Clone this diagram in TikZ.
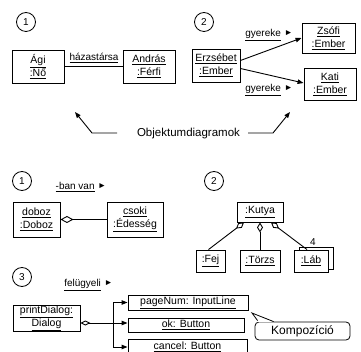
\documentclass[tikz,border=0pt]{standalone}
\usepackage{fontspec}
\setmainfont{Liberation Sans}
\usetikzlibrary{arrows.meta}
\newcommand{\uln}[1]{\underline{#1}}
\newcommand{\tri}{\,\,\raisebox{0.15ex}{\scalebox{0.85}{►}}}

\begin{document}
\begin{tikzpicture}[x=1pt,y=-1pt,
  obj/.style={draw, line width=0.9pt, inner sep=0pt, align=center, fill=white,
              font=\fontsize{10.5}{13}\selectfont},
  num/.style={draw, circle, line width=0.8pt, minimum size=19pt, inner sep=0pt,
              font=\fontsize{10}{12}\selectfont},
  lbl/.style={inner sep=0pt, font=\fontsize{10}{12}\selectfont},
  link/.style={line width=0.9pt},
  nav/.style={line width=0.9pt, -{Triangle[length=6pt,width=4.5pt]}},
  agg/.style={line width=0.9pt, {Diamond[open,length=10pt,width=6pt]}-},
  title/.style={inner sep=0pt, font=\fontsize{11.5}{14}\selectfont},
]
\useasboundingbox (0,0) rectangle (361,352);

% ---------- object diagram 1: marriage link ----------
\node[num] (n1a) at (26,22) {1};
\node[obj, minimum width=52pt, minimum height=33pt] (agi) at (38,66.5) {\uln{Ági}\\\uln{:Nő}};
\node[obj, minimum width=52pt, minimum height=33pt] (andras) at (149,66.5) {\uln{András}\\\uln{:Férfi}};
\draw[link] (agi) -- (andras);
\node[lbl] (hazas) at (94,58) {\uln{házastársa}};

% ---------- object diagram 2: parent and children ----------
\node[num] (n2a) at (204,22) {2};
\node[obj, minimum width=48pt, minimum height=33pt] (erzs) at (216,65.5) {\uln{Erzsébet}\\\uln{:Ember}};
\node[obj, minimum width=53pt, minimum height=30pt] (zsofi) at (328.5,38) {\uln{Zsófi}\\\uln{:Ember}};
\node[obj, minimum width=52pt, minimum height=32pt] (kati) at (330,84) {\uln{Kati}\\\uln{:Ember}};
\draw[nav] ([yshift=5pt]erzs.east) -- (zsofi.west);
\draw[nav] ([yshift=-3pt]erzs.east) -- ([yshift=1pt]kati.west);
\node[lbl] (gy1) at (269,35) {\uln{gyereke}\tri};
\node[lbl] (gy2) at (269,90) {\uln{gyereke}\tri};

% ---------- caption with pointers ----------
\node[title] (od) at (188.5,134) {Objektumdiagramok};
\coordinate (odl1) at (117,133);
\coordinate (odl2) at (92,133);
\coordinate (odl3) at (75,112);
\coordinate (odr1) at (248,133);
\coordinate (odr2) at (273,133);
\coordinate (odr3) at (290,112);
\draw[nav] (odl1) -- (odl2) -- (odl3);
\draw[nav] (odr1) -- (odr2) -- (odr3);

% ---------- aggregation 1 ----------
\node[num] (n1b) at (22,181) {1};
\node[lbl] (ban) at (81,187) {\uln{-ban van}\tri};
\node[obj, minimum width=47pt, minimum height=35pt] (doboz) at (36.5,219.5) {\uln{doboz}\\\uln{:Doboz}};
\node[obj, minimum width=56pt, minimum height=35pt] (csoki) at (135,219.5) {\uln{csoki}\\\uln{:Édesség}};
\draw[line width=0.9pt, {Diamond[open,length=13pt,width=7pt]}-] (doboz) -- (csoki);

% ---------- aggregation 2 ----------
\node[num] (n2b) at (214,181) {2};
\node[obj, minimum width=46pt, minimum height=20pt] (kutya) at (260,212) {\uln{:Kutya}};
\node[obj, minimum width=29pt, minimum height=22pt] (fej) at (210.5,261) {\uln{:Fej}};
\node[obj, minimum width=40pt, minimum height=22pt] (torzs) at (260,261) {\uln{:Törzs}};
\node[obj, minimum width=34pt, minimum height=22pt] (labback) at (316,258) {};
\node[obj, minimum width=34pt, minimum height=22pt] (lab) at (311,261) {\uln{:Láb}};
\draw[agg] ([xshift=-16pt]kutya.south) -- ([xshift=-2pt]fej.north);
\draw[agg] (kutya.south) -- (torzs.north);
\draw[agg] ([xshift=11pt]kutya.south) -- ([xshift=-4pt]lab.north);
\node[lbl] (four) at (313,242) {4};

% ---------- composition ----------
\node[num] (n3) at (22,277) {3};
\node[lbl] (felu) at (88.5,285) {\uln{felügyeli}\tri};
\node[obj, minimum width=67pt, minimum height=26pt] (pd) at (46.5,318) {\uln{printDialog:}\\\uln{Dialog}};
\node[obj, minimum width=120pt, minimum height=15pt] (page) at (188,302.5) {\uln{pageNum: InputLine}};
\node[obj, minimum width=116pt, minimum height=14pt] (ok) at (186,325) {\uln{ok: Button}};
\node[obj, minimum width=119pt, minimum height=16pt] (cancel) at (187.5,347) {\uln{cancel: Button}};
\coordinate (trunk) at (113,323);
\draw[line width=0.9pt, {Diamond[open,length=10pt,width=5pt]}-] ([yshift=-5pt]pd.east) -- (trunk);
\draw[nav] (trunk) |- (page.west);
\draw[nav] (trunk) -- (ok.west |- trunk);
\draw[nav] (trunk) |- (cancel.west);

% callout
\node[draw, line width=0.8pt, rounded corners=4pt, minimum width=95pt, minimum height=18pt,
      inner sep=0pt, font=\fontsize{12}{14}\selectfont] (komp) at (302.5,331) {Kompozíció};
\coordinate (komptip) at (252,313);
\fill[white] ([xshift=3pt,yshift=-0.6pt]komp.north west) -- (komptip) -- ([xshift=19pt,yshift=-0.6pt]komp.north west) -- cycle;
\draw[line width=0.8pt] ([xshift=3pt,yshift=1pt]komp.north west) -- (komptip) -- ([xshift=19pt]komp.north west);
\end{tikzpicture}
\end{document}
